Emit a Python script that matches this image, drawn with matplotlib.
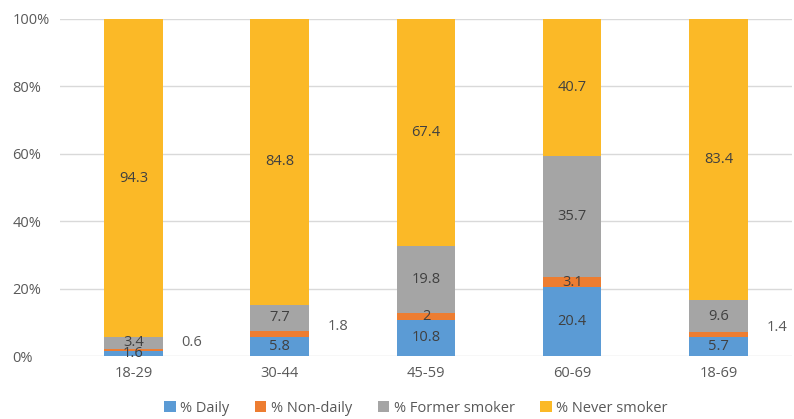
import matplotlib.pyplot as plt
import numpy as np

groups = ['18-29', '30-44', '45-59', '60-69', '18-69']
daily = [1.6, 5.8, 10.8, 20.4, 5.7]
non_daily = [0.6, 1.8, 2, 3.1, 1.4]
former = [3.4, 7.7, 19.8, 35.7, 9.6]
never = [94.3, 84.8, 67.4, 40.7, 83.4]
yticks = [0, 20, 40, 60, 80, 100]
ytick_labels = ['0%', '20%', '40%', '60%', '80%', '100%']

series = [
	('% Daily', daily, '#5B9BD5'),
	('% Non-daily', non_daily, '#ED7D31'),
	('% Former smoker', former, '#A5A5A5'),
	('% Never smoker', never, '#FBB927'),
]

txt = '#595959'
plt.rcParams['font.family'] = ['Open Sans', 'DejaVu Sans']

fig = plt.figure(figsize=(7.94, 4.19), dpi=100)
ax = fig.add_axes([0.076, 0.150, 0.921, 0.805])

x = np.arange(len(groups))
totals = np.sum([np.array(s[1], dtype=float) for s in series], axis=0)
bottom = np.zeros(len(groups))
width = 0.4

for name, vals, col in series:
	vals = np.array(vals, dtype=float)
	h = vals / totals * 100
	ax.bar(x, h, width, bottom=bottom, color=col, label=name, zorder=2)
	for i in range(len(groups)):
		mid = bottom[i] + h[i] / 2
		lab = ('%g' % vals[i])
		if name == '% Non-daily' and vals[i] < 2:
			# small slices get their label beside the bar
			ax.text(x[i] + width / 2 + 0.2, mid + 2, lab, ha='center', va='center',
				fontsize=10.5, color=txt)
		else:
			ax.text(x[i], mid, lab, ha='center', va='center', fontsize=10.5, color='#404040', zorder=3)
	bottom += h

ax.set_ylim(0, 100)
ax.set_xlim(-0.5, len(groups) - 0.5)
ax.set_yticks(yticks)
ax.set_yticklabels(ytick_labels, ha='left')
ax.set_xticks(x)
ax.set_xticklabels(groups)
ax.grid(axis='y', color='#D9D9D9', linewidth=1, zorder=0)
for sp in ax.spines.values():
	sp.set_visible(False)
ax.tick_params(length=0, colors=txt, labelsize=10.5)
ax.tick_params(axis='y', pad=34.5)
ax.tick_params(axis='x', pad=7)

ax.legend(loc='center', bbox_to_anchor=(0.486, -0.155), ncol=4, frameon=False,
	fontsize=10.5, labelcolor=txt, handlelength=0.8, handleheight=0.8, handletextpad=0.3,
	columnspacing=1.75)

fig.savefig('out.png', dpi=100)
